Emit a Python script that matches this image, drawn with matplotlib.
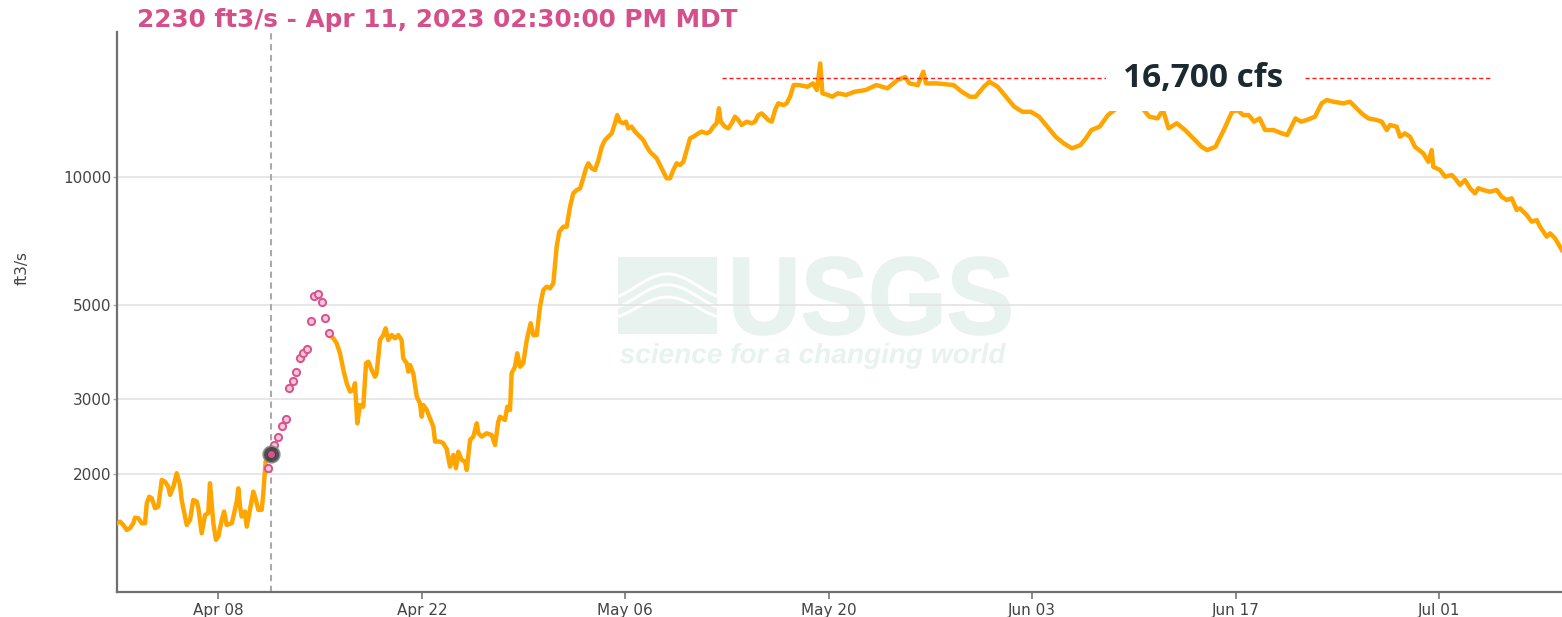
import numpy as np
import pandas as pd
import matplotlib
matplotlib.use("Agg")
import matplotlib.pyplot as plt
from matplotlib.textpath import TextPath
from matplotlib.font_manager import FontProperties
from matplotlib.patches import PathPatch, Rectangle
from matplotlib.transforms import Affine2D
from matplotlib.ticker import NullLocator, FixedLocator, FixedFormatter

# ---------------- data ----------------
START = pd.Timestamp("2023-04-01 00:00")

obs1_days = [0.00, 0.23, 0.45, 0.69, 0.92, 1.14, 1.26, 1.49, 1.72, 1.95, 2.07, 2.24, 2.41, 2.64,
             2.86, 3.10, 3.32, 3.55, 3.67, 3.90, 4.13, 4.36, 4.47, 4.82, 5.05, 5.27, 5.51, 5.62,
             5.85, 6.08, 6.30, 6.42, 6.65, 6.83, 6.99, 7.23, 7.39, 7.57, 7.92, 8.03, 8.26, 8.37,
             8.49, 8.60, 8.83, 8.95, 9.17, 9.40, 9.52, 9.75, 9.98, 10.09, 10.25, 10.36]
obs1_cfs = [1532, 1545, 1518, 1477, 1491, 1532, 1579, 1574, 1532, 1532, 1707, 1769, 1754, 1662,
            1676, 1937, 1919, 1868, 1786, 1868, 2009, 1885, 1738, 1518, 1560, 1738, 1722, 1662,
            1451, 1602, 1617, 1902, 1532, 1400, 1424, 1560, 1632, 1518, 1532, 1588, 1722, 1851,
            1676, 1588, 1632, 1504, 1647, 1818, 1769, 1647, 1647, 1803, 2139, 2159]

est_days = [10.38, 10.60, 10.85, 11.11, 11.36, 11.62, 11.86, 12.11, 12.36, 12.59, 12.84, 13.11,
            13.35, 13.58, 13.87, 14.11, 14.36, 14.61]
est_cfs = [2064, 2230, 2341, 2449, 2599, 2700, 3188, 3311, 3471, 3757, 3848, 3932, 4591, 5256,
           5297, 5088, 4666, 4287]

obs2_days = [14.66, 14.91, 15.14, 15.37, 15.60, 15.83, 16.06, 16.28, 16.40, 16.56, 16.74, 16.97,
             17.16, 17.32, 17.55, 17.78, 17.89, 18.12, 18.35, 18.51, 18.69, 18.93, 19.15, 19.38,
             19.61, 19.72, 19.96, 20.07, 20.19, 20.41, 20.65, 20.87, 20.99, 21.10, 21.34, 21.56,
             21.79, 21.91, 22.25, 22.48, 22.71, 22.94, 23.17, 23.35, 23.51, 23.74, 23.97, 24.09,
             24.32, 24.54, 24.78, 24.89, 25.12, 25.46, 25.81, 26.04, 26.26, 26.38, 26.72, 26.88,
             27.07, 27.18, 27.41, 27.57, 27.76, 27.98, 28.22, 28.49, 28.67, 28.91, 29.13, 29.36,
             29.59, 29.82, 30.05, 30.28, 30.46, 30.74, 30.97, 31.20, 31.42, 31.66, 31.89, 32.07,
             32.30, 32.46, 32.69, 32.92, 33.15, 33.38, 33.61, 33.83, 34.07, 34.29, 34.45, 34.64,
             34.87, 35.05, 35.21, 35.44, 35.67, 35.90, 36.24, 36.48, 36.70, 36.93, 37.16, 37.39,
             37.62, 37.85, 38.08, 38.31, 38.54, 38.77, 39.00, 39.23, 39.46, 39.68, 40.03, 40.26,
             40.61, 40.83, 41.06, 41.29, 41.45, 41.57, 41.86, 42.09, 42.33, 42.55, 42.78, 43.01,
             43.36, 43.70, 43.93, 44.16, 44.39, 44.62, 44.84, 45.08, 45.31, 45.53, 45.88, 46.11,
             46.34, 46.59, 46.97, 47.54, 47.92, 48.19, 48.42, 48.57, 48.95, 49.25, 49.63, 50.20,
             50.77, 51.53, 52.28, 53.04, 53.73, 54.26, 54.56, 55.13, 55.51, 55.70, 56.45, 57.60,
             58.17, 58.73, 59.11, 59.68, 60.06, 60.63, 61.20, 61.77, 62.34, 62.91, 63.48, 64.05,
             64.62, 65.18, 65.75, 66.33, 66.70, 67.08, 67.65, 68.22, 68.97, 69.45, 69.95, 70.50,
             71.07, 71.63, 72.01, 72.39, 72.96, 73.53, 74.10, 74.67, 75.05, 75.62, 76.19, 76.76,
             77.14, 77.52, 77.90, 78.28, 78.66, 79.04, 79.61, 80.18, 80.56, 81.13, 81.51, 81.90,
             82.47, 82.93, 83.28, 83.73, 84.42, 84.88, 85.34, 85.68, 86.14, 86.72, 87.06, 87.41,
             87.63, 88.09, 88.32, 88.66, 89.01, 89.35, 89.92, 90.27, 90.50, 90.61, 91.07, 91.42,
             91.88, 92.11, 92.45, 92.79, 93.14, 93.48, 93.71, 94.05, 94.51, 94.98, 95.32, 95.66,
             96.01, 96.35, 96.58, 97.04, 97.38, 97.73, 97.96, 98.42, 98.65, 98.99, 99.46]
obs2_cfs = [4248, 4173, 4061, 3848, 3515, 3270, 3126, 3155, 3270, 2633, 2907, 2880,
            3644, 3676, 3515, 3389, 3452, 4135, 4248, 4406, 4135, 4248, 4173, 4248,
            4135, 3745, 3644, 3483, 3610, 3452, 3042, 2934, 2729, 2907, 2830, 2705,
            2585, 2384, 2384, 2363, 2290, 2082, 2218, 2064, 2257, 2159, 2139, 2045,
            2406, 2449, 2633, 2494, 2449, 2494, 2471, 2341, 2656, 2729, 2681, 2880,
            2830, 3452, 3577, 3848, 3577, 3644, 4135, 4528, 4248, 4248, 4951, 5420,
            5519, 5471, 5622, 6855, 7436, 7640, 7640, 8512, 9155, 9320, 9406, 9838,
            10480, 10770, 10480, 10390, 10960, 11780, 12220, 12440, 12670, 13380, 13990, 13500,
            13380, 13500, 13020, 13140, 12790, 12560, 12220, 11780, 11470, 11270, 11070, 10670,
            10290, 9930, 9930, 10390, 10770, 10670, 10860, 11570, 12330, 12440, 12670, 12790,
            12670, 12790, 13140, 13380, 14510, 13500, 13140, 13020, 13380, 13870, 13620, 13260,
            13500, 13380, 13500, 13990, 14120, 13870, 13620, 13500, 14380, 14910, 14770, 14910,
            15450, 16460, 16460, 16310, 16610, 16020, 18510, 15740, 15600, 15450, 15740, 15600,
            15870, 16020, 16460, 16170, 16910, 17190, 16610, 16460, 17690, 16610, 16610, 16460,
            15870, 15450, 15450, 16310, 16760, 16310, 15450, 14640, 14240, 14240, 13870, 13140,
            12440, 12000, 11680, 11890, 12330, 12900, 13140, 13990, 14640, 15180, 15450, 14640,
            13870, 13740, 14380, 13020, 13380, 12900, 12330, 11780, 11570, 11780, 12900, 14240,
            14380, 13990, 13990, 13500, 13740, 12900, 12900, 12670, 12560, 13740, 13500, 13620,
            13870, 14910, 15180, 15040, 14910, 15040, 14510, 14120, 13740, 13620, 13500, 12900,
            13260, 13140, 12440, 12670, 12440, 11780, 11370, 10860, 11570, 10570, 10390, 10020,
            10110, 9930, 9580, 9840, 9410, 9150, 9410, 9320, 9235, 9320, 8985, 8830,
            8910, 8365, 8440, 8140, 7850, 7920, 7640, 7236, 7370, 7175, 6735]

cursor_day = 10.604          # Apr 11, 2023 14:30
cursor_cfs = 2230
title_text = "2230 ft3/s - Apr 11, 2023 02:30:00 PM MDT"

peak_label = "16,700 cfs"
peak_level = 17100
peak_spans = [(41.64, 68.15), (81.78, 94.65)]
peak_label_day = 74.76

y_ticks = [2000, 3000, 5000, 10000]
y_label = "ft3/s"
x_tick_dates = ["2023-04-08", "2023-04-22", "2023-05-06", "2023-05-20",
                "2023-06-03", "2023-06-17", "2023-07-01"]
x_tick_labels = ["Apr 08", "Apr 22", "May 06", "May 20", "Jun 03", "Jun 17", "Jul 01"]
x_end_day = 99.47
y_min, y_max = 1057, 21980

# ---------------- figure ----------------
W_PX, H_PX = 1562, 617
fig = plt.figure(figsize=(W_PX / 100, H_PX / 100), dpi=100)
L = 116.7 / W_PX
B = (H_PX - 591.7) / H_PX
T = (H_PX - 31.7) / H_PX
ax = fig.add_axes([L, B, 1.0 - L, T - B])


def to_time(days):
    return START + pd.to_timedelta(np.asarray(days, dtype=float), unit="D")


ax.set_yscale("log")
ax.set_xlim(to_time([0.0])[0], to_time([x_end_day])[0])
ax.set_ylim(y_min, y_max)

# watermark (figure-pixel boxes)
def px_box_to_fig(x0, y0, x1, y1):
    return x0 / W_PX, 1 - y1 / H_PX, (x1 - x0) / W_PX, (y1 - y0) / H_PX


def fitted_text(s, box, prop, color, z, edge_lw=0.0):
    tp = TextPath((0, 0), s, size=100, prop=prop)
    ext = tp.get_extents()
    fx, fy, fw, fh = px_box_to_fig(*box)
    tr = (Affine2D().translate(-ext.x0, -ext.y0)
          .scale(fw / ext.width, fh / ext.height).translate(fx, fy))
    p = PathPatch(tp, transform=tr + fig.transFigure, fc=color,
                  ec=color if edge_lw > 0 else "none", lw=edge_lw, zorder=z)
    ax.add_patch(p)


wm = "#e8f2ef"
fitted_text("USGS", (734, 257, 1010, 335),
            FontProperties(family="Liberation Sans", weight="bold"), wm, 0.1, edge_lw=1.2)
fitted_text("science for a changing world", (620, 343, 1006, 369),
            FontProperties(family="Liberation Sans", weight="bold", style="italic"), wm, 0.1)
rx, ry, rw, rh = px_box_to_fig(618, 257, 717, 334)
ax.add_patch(Rectangle((rx, ry), rw, rh, transform=fig.transFigure, fc=wm, ec="none", zorder=0.1))
u = np.linspace(0, 1, 60)
for base, amp in [(0.62, 0.16), (0.48, 0.16), (0.34, 0.14)]:
    ax.plot(rx + u * rw, ry + (base + amp * np.sin(np.pi * (u * 1.6 - 0.3))) * rh,
            color="white", lw=2.2, transform=fig.transFigure, zorder=0.2, solid_capstyle="butt")

# grid & axes styling
ax.set_axisbelow(True)
ax.yaxis.grid(True, color="#e3e3e3", lw=1.2)
ax.xaxis.grid(False)
for s in ["top", "right"]:
    ax.spines[s].set_visible(False)
for s in ["left", "bottom"]:
    ax.spines[s].set_color("#6f6f6f")
    ax.spines[s].set_linewidth(1.6)

ax.yaxis.set_major_locator(FixedLocator(y_ticks))
ax.yaxis.set_major_formatter(FixedFormatter([str(v) for v in y_ticks]))
ax.yaxis.set_minor_locator(NullLocator())
ax.set_xticks(pd.to_datetime(x_tick_dates))
ax.set_xticklabels(x_tick_labels)
ax.xaxis.set_minor_locator(NullLocator())
ax.tick_params(axis="y", length=3, width=1, color="#aaaaaa", pad=1,
               labelsize=11, labelcolor="#444444")
ax.tick_params(axis="x", length=5, width=1.2, color="#777777", pad=3,
               labelsize=11, labelcolor="#444444")
fig.text(22 / W_PX, 1 - 268 / H_PX, y_label, rotation=90, ha="center", va="center",
         fontsize=11, color="#444444")

# data lines
orange = "#ffa500"
ax.plot(to_time(obs1_days), obs1_cfs, color=orange, lw=3.2, solid_joinstyle="round", zorder=3)
ax.plot(to_time(obs2_days), obs2_cfs, color=orange, lw=3.2, solid_joinstyle="round", zorder=3)

# cursor line
ct = to_time([cursor_day])[0]
ax.axvline(ct, color="#aaaaaa", lw=1.5, dashes=(3, 2.2), zorder=2)

# estimated points
ax.plot(to_time(est_days), est_cfs, linestyle="none", marker="o", ms=5.2,
        mfc="#f4c6da", mec="#d9528c", mew=1.4, zorder=4)

# cursor marker
ax.plot([ct], [cursor_cfs], marker="o", ms=12, color="#3d3d3d", mec="#8a8a8a",
        mew=1.2, alpha=0.9, linestyle="none", zorder=5)
ax.plot([ct], [cursor_cfs], marker="o", ms=4, color="#d9528c", linestyle="none", zorder=6)

# peak annotation
for a, b in peak_spans:
    ax.plot(to_time([a, b]), [peak_level, peak_level], color="#ff1a1a", lw=1.0,
            dashes=(3, 2), zorder=4)
ax.text(to_time([peak_label_day])[0], peak_level, peak_label, ha="center", va="center",
        fontsize=24, fontweight="bold", family="Open Sans", color="#1b2a31", zorder=7,
        bbox=dict(boxstyle="square,pad=0.5", fc="white", ec="none"))

# title
fig.text(137 / W_PX, 1 - 27.3 / H_PX, title_text, ha="left", va="baseline",
         fontsize=17.8, fontweight="bold", family="DejaVu Sans", color="#d5508b")

fig.savefig("out.png", dpi=100)
